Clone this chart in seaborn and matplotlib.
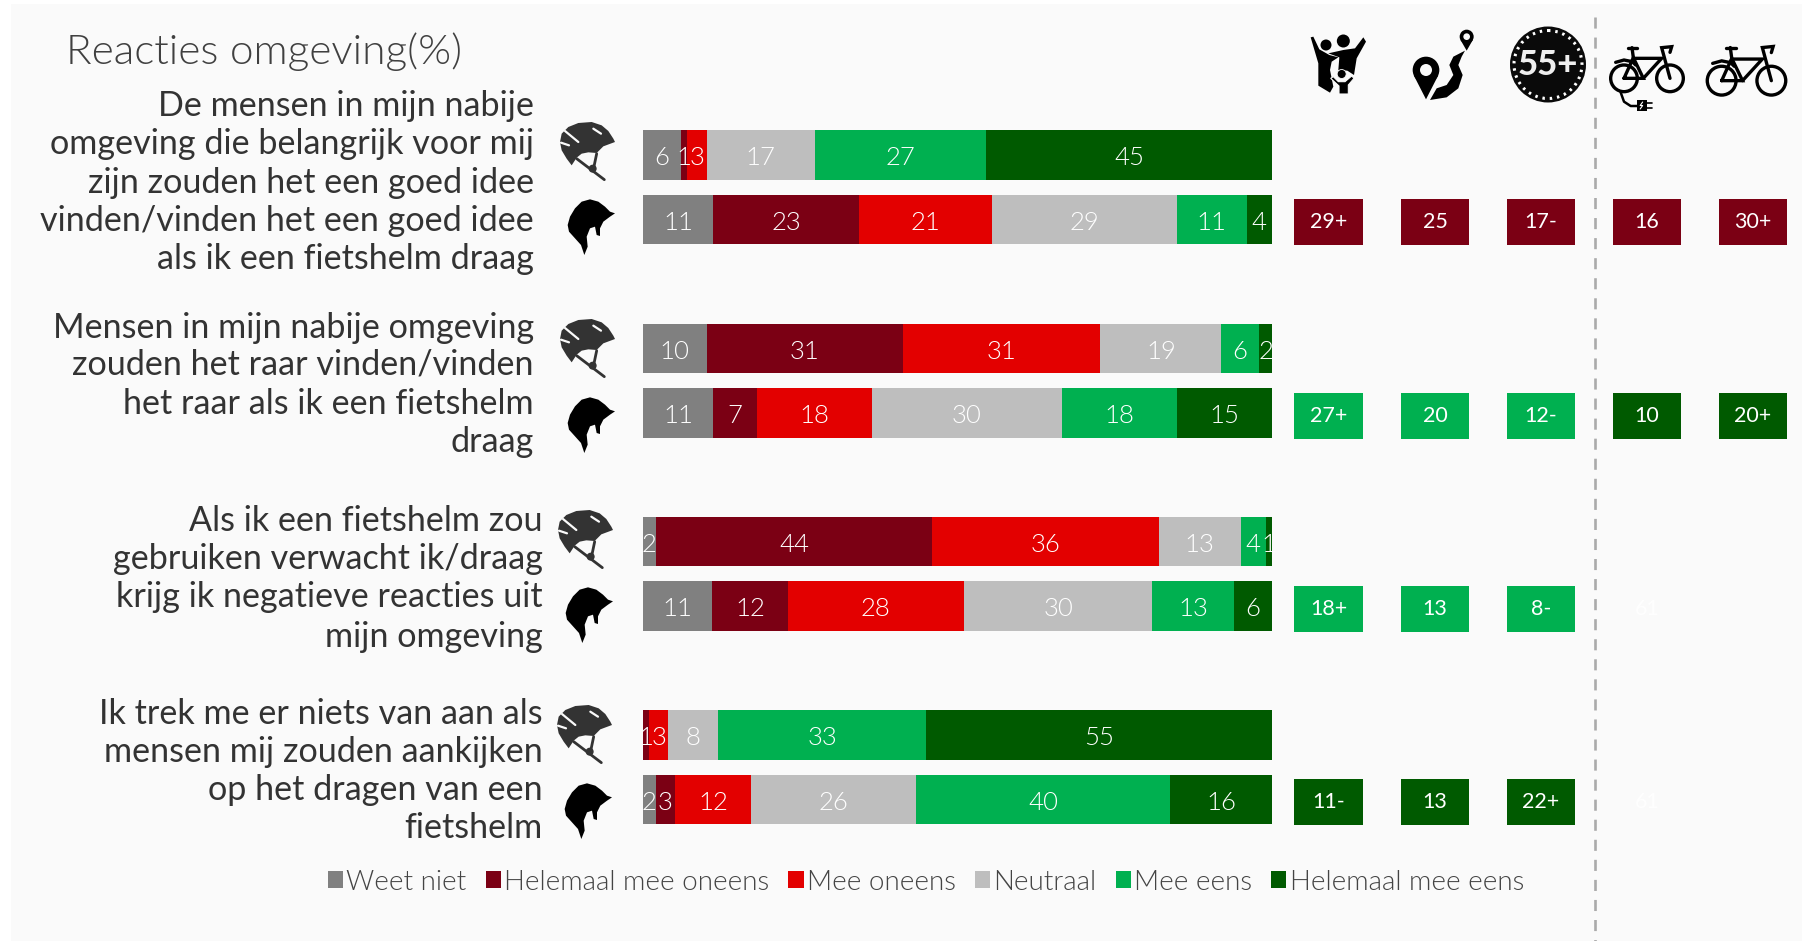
import numpy as np
import pandas as pd
import matplotlib
matplotlib.use("Agg")
import matplotlib.pyplot as plt
from matplotlib.patches import Circle, Polygon, Rectangle, Patch
import seaborn as sns

W, H = 1806, 941

# --- data ---
row_names = ["q1 helm", "q1 geen", "q2 helm", "q2 geen", "q3 helm", "q3 geen", "q4 helm", "q4 geen"]
row_order = ["q1 helm", "q1 geen", "gap1", "q2 helm", "q2 geen", "gap2", "q3 helm", "q3 geen", "gap3", "q4 helm", "q4 geen"]

answers = ["Weet niet", "Helemaal mee oneens", "Mee oneens", "Neutraal", "Mee eens", "Helemaal mee eens"]
weet_niet = [6, 11, 10, 11, 2, 11, 0, 2]
helemaal_oneens = [1, 23, 31, 7, 44, 12, 1, 3]
oneens = [3, 21, 31, 18, 36, 28, 3, 12]
neutraal = [17, 29, 19, 30, 13, 30, 8, 26]
eens = [27, 11, 6, 18, 4, 13, 33, 40]
helemaal_eens = [45, 4, 2, 15, 1, 6, 55, 16]
answer_colors = ["#808080", "#7B0014", "#E30000", "#BEBEBE", "#00B050", "#005A00"]

tile_rows = ["q1 geen", "q2 geen", "q3 geen", "q4 geen"]
tile_q1 = ["29+", "25", "17-", "16", "30+"]
tile_q2 = ["27+", "20", "12-", "10", "20+"]
tile_q3 = ["18+", "13", "8-", "61", None]
tile_q4 = ["11-", "13", "22+", "61", None]
tile_colors_q1 = ["#7B0014"] * 5
tile_colors_q2 = ["#00B050"] * 3 + ["#005A00"] * 2
tile_colors_q3 = ["#00B050"] * 3 + [None, None]
tile_colors_q4 = ["#005A00"] * 3 + [None, None]

title = "Reacties omgeving(%)"
questions = [
    ["De mensen in mijn nabije", "omgeving die belangrijk voor mij", "zijn zouden het een goed idee",
     "vinden/vinden het een goed idee", "als ik een fietshelm draag"],
    ["Mensen in mijn nabije omgeving", "zouden het raar vinden/vinden", "het raar als ik een fietshelm", "draag"],
    ["Als ik een fietshelm zou", "gebruiken verwacht ik/draag", "krijg ik negatieve reacties uit", "mijn omgeving"],
    ["Ik trek me er niets van aan als", "mensen mij zouden aankijken", "op het dragen van een", "fietshelm"],
]
question_right = [534, 534, 543, 543]
question_y = [[104, 142, 181, 219, 257], [326, 363, 402, 440], [519, 557, 595, 635], [712, 750, 788, 826]]

sns.set_theme(style="white")
plt.rcParams["font.family"] = ["Lato", "DejaVu Sans"]

fig = plt.figure(figsize=(W / 100, H / 100), dpi=100, facecolor="white")


def box(x0, y0, x1, y1):
    return [x0 / W, 1 - y1 / H, (x1 - x0) / W, (y1 - y0) / H]


# overlay in pixel coordinates for the panel, texts and the icons
bg = fig.add_axes([0, 0, 1, 1])
bg.set_xlim(0, W)
bg.set_ylim(H, 0)
bg.axis("off")
bg.add_patch(Rectangle((11, 4), 1791, 937, color="#FAFAFA", lw=0))
bg.plot([1595, 1595], [17, 941], color="#AAAAAA", lw=1.9, dashes=(4.2, 3.4))


def helmet(dx, dy):
    o = lambda pts: [(560 + dx + x / 3 - 15, 122 + dy + (y - 35) / 3) for x, y in pts]
    outline = [(45, 95), (50, 70), (70, 50), (100, 38), (140, 35), (170, 45), (190, 62), (205, 85), (210, 95),
               (175, 108), (155, 128), (130, 126), (110, 130), (95, 142), (80, 165), (65, 145), (50, 120)]
    bg.add_patch(Polygon(o(outline), color="#333333", lw=0))
    for seg, col, lw in [([(95, 145), (178, 208)], "#333333", 2.0), ([(155, 130), (145, 178)], "#333333", 2.0),
                         ([(60, 62), (100, 95)], "#FAFAFA", 1.6), ([(48, 97), (72, 105)], "#FAFAFA", 1.6),
                         ([(145, 55), (168, 70)], "#FAFAFA", 1.6)]:
        xy = o(seg)
        bg.plot([xy[0][0], xy[1][0]], [xy[0][1], xy[1][1]], color=col, lw=lw, solid_capstyle="round")
    bg.add_patch(Circle(o([(143, 175)])[0], 4, color="#333333", lw=0))


def hair(dx, dy):
    o = lambda pts: [(545 + dx + x / 3, 110 + dy + y / 3) for x, y in pts]
    outline = [(68, 345), (75, 320), (90, 295), (110, 275), (135, 268), (160, 275), (180, 290), (195, 305), (210, 310),
               (195, 320), (175, 335), (165, 355), (165, 378), (155, 375), (150, 350), (135, 355), (125, 380),
               (128, 410), (118, 435), (108, 405), (90, 385), (72, 365)]
    bg.add_patch(Polygon(o(outline), color="black", lw=0))


for dx, dy_h, dy_b in [(0, 0, 0), (0, 197, 198), (-2, 388, 388), (-3, 583, 584)]:
    helmet(dx, dy_h)
    hair(dx, dy_b)

# family icon
o = lambda pts: [(1290 + x / 3, 20 + y / 3) for x, y in pts]
bg.add_patch(Polygon(o([(62, 52), (70, 50), (88, 88), (118, 105), (145, 112), (125, 125), (120, 150), (130, 200),
                        (120, 218), (85, 197), (85, 130)]), color="black", lw=0))
bg.add_patch(Polygon(o([(115, 100), (160, 90), (195, 85), (220, 52), (228, 65), (200, 115), (192, 165), (172, 152),
                        (145, 150), (148, 112)]), color="black", lw=0))
bg.add_patch(Circle(o([(160, 63)])[0], 6.5, color="black", lw=0))
bg.add_patch(Circle(o([(108, 75)])[0], 5.5, color="black", lw=0))
bg.add_patch(Polygon(o([(122, 175), (130, 170), (145, 185), (165, 185), (185, 168), (192, 175), (175, 195), (175, 222),
                        (147, 222), (147, 198)]), facecolor="black", edgecolor="#FAFAFA", lw=0.8))
bg.add_patch(Circle(o([(155, 162)])[0], 4.5, facecolor="black", edgecolor="#FAFAFA", lw=0.6))

# route icon
for cx, cy, r, r2, tip in [(408, 150, 40, 18, 238), (530, 50, 21, 10, 92)]:
    bg.add_patch(Circle(o([(cx, cy)])[0], r / 3, color="black", lw=0))
    bg.add_patch(Polygon(o([(cx - r * 0.92, cy + r * 0.4), (cx, tip), (cx + r * 0.92, cy + r * 0.4)]), color="black", lw=0))
    bg.add_patch(Circle(o([(cx, cy)])[0], r2 / 3, color="#FAFAFA", lw=0))
bg.add_patch(Polygon(o([(525, 92), (490, 110), (478, 135), (490, 165), (470, 195), (440, 205), (420, 240), (470, 232),
                        (505, 205), (518, 165), (505, 135), (515, 110)]), color="black", lw=0))

# 55+ badge
bg.add_patch(Circle((1548, 64.5), 38, color="#0A0A0A", lw=0))
bg.add_patch(Circle((1548, 64.5), 34, fill=False, edgecolor="white", lw=2.2, linestyle=(0, (0.8, 1.6))))
bg.text(1548, 65, "55+", color="#EEEEEE", fontsize=25, fontweight="black", ha="center", va="center")


# bikes, drawn from the wheel centres
def bike(ox, oy, k, electric=False):
    o = lambda x, y: (ox + k * x / 3, oy + k * y / 3)
    lw = 2.4
    for wx in [0, 138]:
        bg.add_patch(Circle(o(wx, 0), k * 40 / 3, fill=False, edgecolor="black", lw=lw))
    frame = [[(0, 0), (58, 0), (28, -62), (0, 0)], [(32, -60), (113, -60), (58, 0)], [(138, 0), (113, -92), (143, -95), (138, -78)],
             [(13, -92), (40, -92)], [(-25, -48), (0, -55), (25, -50), (35, -40)]]
    for seg in frame:
        pts = [o(x, y) for x, y in seg]
        bg.plot([p[0] for p in pts], [p[1] for p in pts], color="black", lw=lw, solid_joinstyle="miter")
    pts = [o(28, -62), o(24, -92)]
    bg.plot([pts[0][0], pts[1][0]], [pts[0][1], pts[1][1]], color="black", lw=lw)
    if electric:
        c = [o(-10, 42), o(0, 70), o(20, 83), o(40, 83)]
        bg.plot([p[0] for p in c], [p[1] for p in c], color="black", lw=1.8)
        x0, y0 = o(38, 65)
        bg.add_patch(Rectangle((x0, y0), 10, 11, color="black", lw=0))
        for yy in [2.5, 7.5]:
            bg.plot([x0 + 10, x0 + 15], [y0 + yy, y0 + yy], color="black", lw=1.2)
        bg.plot([x0 + 6, x0 + 3.5, x0 + 6, x0 + 3.5], [y0 + 2, y0 + 5.5, y0 + 5.5, y0 + 9], color="white", lw=0.8)


bike(1580 + 132 / 3, 30 + 145 / 3, 1.0, electric=True)
bike(1580 + 425 / 3, 30 + 152 / 3, 1.08)

# texts
bg.text(66, 52, title, color="#404040", fontsize=30.5, ha="left", va="center", fontweight=300)
for lines, right, ys in zip(questions, question_right, question_y):
    for line, y in zip(lines, ys):
        bg.text(right, y + 2, line, color="#333333", fontsize=24.6, ha="right", va="center")

# --- stacked bars ---
ax = fig.add_axes(box(643, 122.8, 1272, 831.7))
values = np.array([weet_niet, helemaal_oneens, oneens, neutraal, eens, helemaal_eens], dtype=float)
shares = values / values.sum(axis=0) * 100
cumulative = shares.cumsum(axis=0)

# longest stack first, every shorter one paints over it
for k in range(len(answers) - 1, -1, -1):
    df = pd.DataFrame({"row": row_names, "cum": cumulative[k]})
    sns.barplot(data=df, x="cum", y="row", order=row_order, color=answer_colors[k], saturation=1,
                width=49.5 / 64.45, errorbar=None, linewidth=0, ax=ax)

for k in range(len(answers)):
    for i, name in enumerate(row_names):
        if values[k, i] > 0:
            mid = cumulative[k, i] - shares[k, i] / 2
            ax.text(mid, row_order.index(name) + 0.05, str(int(values[k, i])), color="white", fontsize=18.5,
                    ha="center", va="center", fontweight=300)
ax.set_xlim(0, 100)
ax.set_ylim(10.5, -0.5)
ax.axis("off")

# --- tiles right of the bars ---
tx = fig.add_axes(box(1294.5, 125.8, 1787.5, 834.7))
tile_labels = [tile_q1, tile_q2, tile_q3, tile_q4]
tile_colors = [tile_colors_q1, tile_colors_q2, tile_colors_q3, tile_colors_q4]
for name, labels, cols in zip(tile_rows, tile_labels, tile_colors):
    y = row_order.index(name)
    for c, (lab, col) in enumerate(zip(labels, cols)):
        if col is not None:
            tx.barh(y, 0.65, left=c - 0.325, height=46 / 64.45, color=col, linewidth=0)
        if lab is not None:
            tx.text(c, y, lab, color="white", fontsize=15.5, ha="center", va="center",
                    alpha=1 if col is not None else 0.9)
tx.set_xlim(-0.325, 4.325)
tx.set_ylim(10.5, -0.5)
tx.axis("off")

# legend
handles = [Patch(color=c, label=a, lw=0) for a, c in zip(answers, answer_colors)]
leg = fig.legend(handles=handles, loc="center", bbox_to_anchor=(926 / W, 1 - 882 / H), ncol=6, frameon=False,
                 handlelength=0.55, handleheight=0.55, handletextpad=0.12, columnspacing=0.68,
                 labelcolor="#444444", prop={"size": 20, "weight": 300})

fig.savefig("out.png", dpi=100, facecolor="white")
